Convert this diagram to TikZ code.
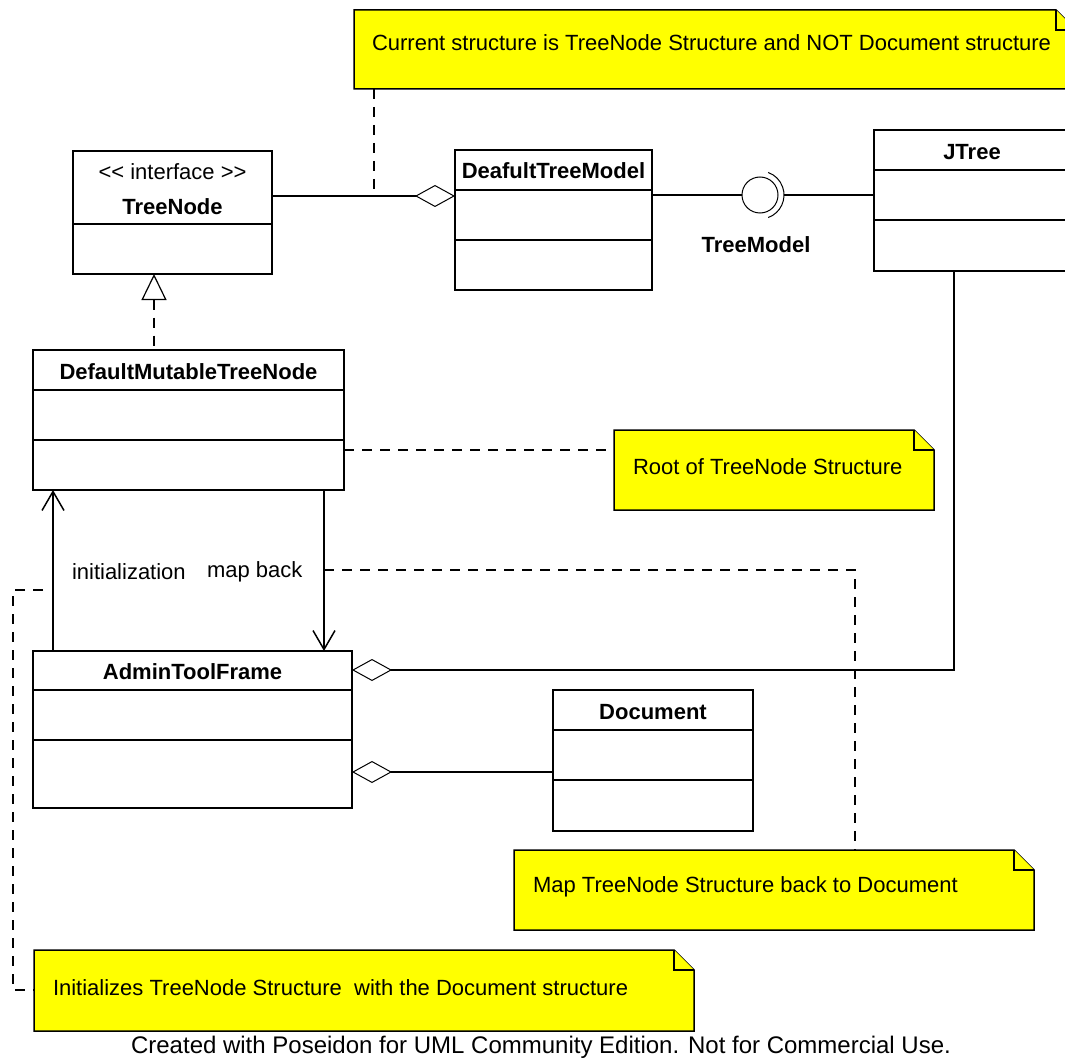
\documentclass[tikz,border=0pt]{standalone}
\usepackage{fontspec}
\setmainfont{Liberation Sans}
\usetikzlibrary{arrows.meta,fit}

\definecolor{noteyellow}{RGB}{255,255,0}

% class box with two compartment dividers
\newcommand{\umlclass}[7]{% name, x1, y1, x2, y2, divider 1, divider 2
  \node[classbox, fit={(#2,#3) (#4,#5)}] (#1) {};
  \draw (#1.west |- 0,#6) -- (#1.east |- 0,#6);
  \draw (#1.west |- 0,#7) -- (#1.east |- 0,#7);
}
% yellow note with a folded top-right corner
\newcommand{\umlnote}[5]{% name, x1, y1, x2, y2
  \filldraw[notebody] (#2,#3) -- (#4-20,#3) -- (#4,#3+20) -- (#4,#5) -- (#2,#5) -- cycle;
  \draw[notebody] (#4-20,#3) -- (#4-20,#3+20) -- (#4,#3+20);
  \node[inner sep=0, outer sep=0, fit={(#2,#3) (#4,#5)}] (#1) {};
}

\tikzset{
  classbox/.style={draw, fill=white, inner sep=0, outer sep=0},
  notebody/.style={draw, fill=noteyellow, line join=miter},
  txt/.style={font=\fontsize{22pt}{26pt}\selectfont, inner sep=0, outer sep=0},
  title/.style={txt, font=\fontsize{22pt}{26pt}\selectfont\bfseries},
  agg/.style={{Diamond[open, fill=white, length=40pt, width=22pt, line width=1pt]}-},
  realize/.style={dashed line, {Triangle[open, fill=white, length=26pt, width=25pt, line width=1.2pt]}-},
  nav/.style={-{Straight Barb[length=19pt, width=22pt, line width=1.5pt]}},
  dashed line/.style={dash pattern=on 10pt off 8pt},
  noteline/.style={dashed line},
}

\begin{document}
\begin{tikzpicture}[x=1pt, y=-1pt, line width=1.5pt]
\useasboundingbox (0,0) rectangle (1065,1059);
\clip (0,0) rectangle (1065,1059);

% ---- classes ----
\umlclass{tn}{73}{151}{272}{274}{224}{224}
\node[txt] (tnStereo) at (172.5,172) {<{}< interface >{}>};
\node[title] (tnTitle) at (172.5,207) {TreeNode};

\umlclass{dtm}{455}{150}{652}{290}{190}{240}
\node[title] (dtmTitle) at (553.5,171) {DeafultTreeModel};

\umlclass{jtree}{874}{130}{1070}{271}{170}{220}
\node[title] (jtreeTitle) at (972,152) {JTree};

\umlclass{dmtn}{33}{350}{344}{490}{390}{440}
\node[title] (dmtnTitle) at (188.5,372) {DefaultMutableTreeNode};

\umlclass{atf}{33}{651}{352}{808}{690}{740}
\node[title] (atfTitle) at (192.5,672) {AdminToolFrame};

\umlclass{doc}{553}{690}{753}{831}{730}{780}
\node[title] (docTitle) at (653,712) {Document};

% ---- provided interface TreeModel ----
\node[circle, draw, line width=1pt, minimum size=36pt, inner sep=0, outer sep=0] (tm) at (760,195) {};
\draw[line width=1pt] (tm.center) ++(-70:24pt) arc[start angle=-70, end angle=70, radius=24pt];
\node[title] (tmLabel) at (756,245) {TreeModel};
\draw (dtm.east |- tm.center) -- (tm.west);
\draw ([xshift=24pt]tm.center) -- (jtree.west |- tm.center);

% ---- associations ----
\draw[agg] (dtm.west |- 0,196) -- (tn.east |- 0,196);
\draw[agg] (atf.east |- 0,670) -| ([xshift=80pt]jtree.south west);
\draw[agg] (atf.east |- 0,772) -- (doc.west |- 0,772);
\draw[realize] (tn.south -| 154,0) -- (dmtn.north -| 154,0);
\draw[nav] (atf.north -| 53,0) -- (dmtn.south -| 53,0);
\draw[nav] (dmtn.south -| 324,0) -- (atf.north -| 324,0);
\node[txt, anchor=west] (initLabel) at (72,572) {initialization};
\node[txt, anchor=west] (mapLabel) at (207,572) {map back};

% ---- notes ----
\umlnote{topnote}{354}{10}{1076}{89}
\node[txt, anchor=west] (topnoteText) at (372,43) {Current structure is TreeNode Structure and NOT Document structure};

\umlnote{rootnote}{614}{430}{934}{510}
\node[txt, anchor=west] (rootnoteText) at (633,467) {Root of TreeNode Structure};

\umlnote{mapnote}{514}{850}{1034}{930}
\node[txt, anchor=west] (mapnoteText) at (533,887) {Map TreeNode Structure back to Document};

\umlnote{initnote}{34}{950}{694}{1031}
\node[txt, anchor=west] (initnoteText) at (53,988) {Initializes TreeNode Structure\ \ with the Document structure};

% ---- note anchors ----
\coordinate (assocMid) at (374,196);
\coordinate (mapMid) at (324,570);
\coordinate (initMid) at (43,590);
\draw[noteline] (topnote.south -| assocMid) -- (assocMid);
\draw[noteline] (dmtn.east |- 0,450) -- (rootnote.west |- 0,450);
\draw[noteline] (mapMid) -| (mapnote.north -| 855,0);
\draw[noteline] (initMid) -- (13,590) |- (initnote.west |- 0,990);

% ---- footer ----
\node[txt, font=\fontsize{24pt}{28pt}\selectfont] (footer) at (541,1047) {Created with Poseidon for UML Community Edition. Not for Commercial Use.};
\end{tikzpicture}
\end{document}
